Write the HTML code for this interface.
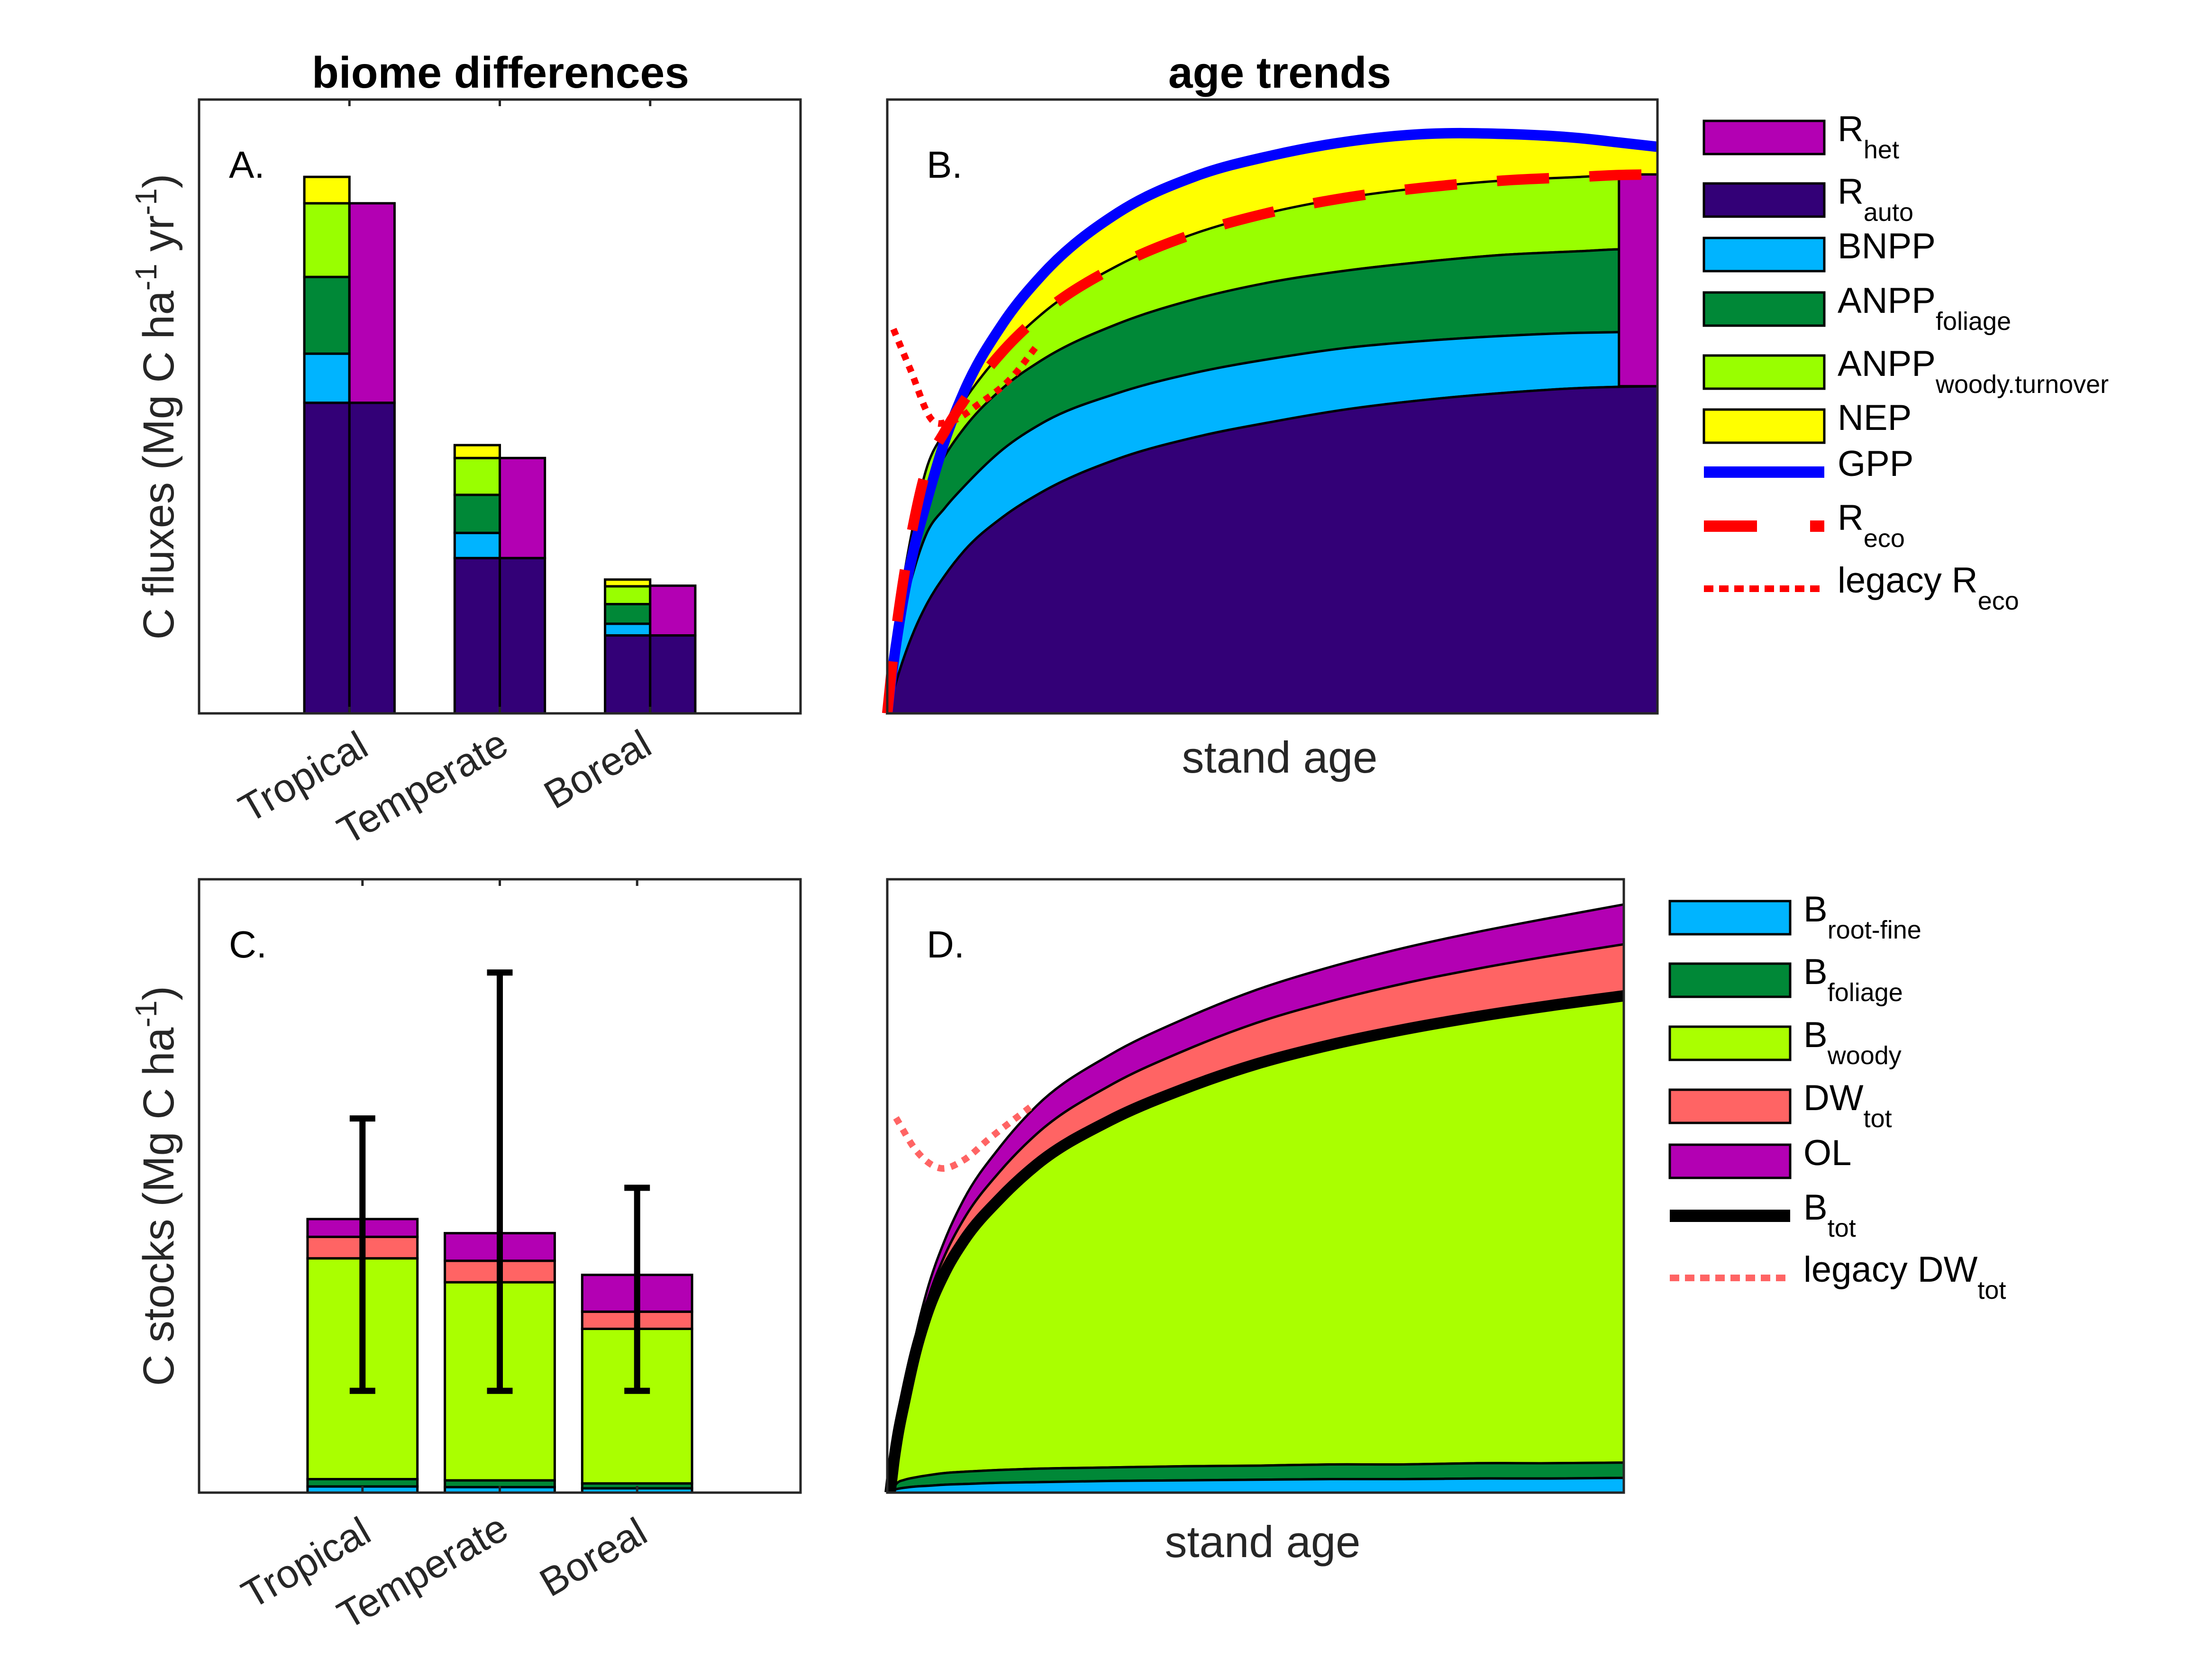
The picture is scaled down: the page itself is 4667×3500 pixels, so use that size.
<!DOCTYPE html>
<html><head><meta charset="utf-8"><style>
html,body{margin:0;padding:0;background:#fff;}
svg{display:block;font-family:"Liberation Sans",Arial,sans-serif;}
</style></head><body>
<svg id="fig" width="4667" height="3500" viewBox="0 0 4667 3500" xmlns="http://www.w3.org/2000/svg">
<rect x="0" y="0" width="4667" height="3500" fill="#fff"/>
<text x="1056" y="185" font-size="93" font-weight="bold" text-anchor="middle">biome differences</text>
<text x="2700" y="185" font-size="93" font-weight="bold" text-anchor="middle">age trends</text>
<g id="gA"></g>
<g id="gB"></g>
<g id="gC"></g>
<g id="gD"></g>
<text transform="translate(366,858) rotate(-90)" font-size="92" fill="#262626" text-anchor="middle">C fluxes (Mg C ha<tspan dy="-36" font-size="64">-1</tspan><tspan dy="36"> yr</tspan><tspan dy="-36" font-size="64">-1</tspan><tspan dy="36">)</tspan></text>
<text transform="translate(366,2502) rotate(-90)" font-size="92" fill="#262626" text-anchor="middle">C  stocks (Mg C ha<tspan dy="-36" font-size="64">-1</tspan><tspan dy="36">)</tspan></text>
<text x="2700" y="1630" font-size="94" fill="#262626" text-anchor="middle">stand age</text>
<text x="2664" y="3285" font-size="94" fill="#262626" text-anchor="middle">stand age</text>
<g id="legB"></g>
<g id="legD"></g>
</svg>
<script>
// ---------- Panel A data (biome fluxes) ----------
const biomes = ["Tropical","Temperate","Boreal"];
const fluxRauto = [50.6, 25.3, 12.7];
const fluxBNPP = [8.0, 4.1, 1.9];
const fluxFoliage = [12.5, 6.2, 3.2];
const fluxWoody = [12.0, 6.0, 2.9];
const fluxNEP = [4.3, 2.1, 1.1];
const fluxRhet = [32.5, 16.3, 8.1];
// ---------- Panel C data (biome stocks) ----------
const stockRoot = [1.0, 0.9, 0.7];
const stockFoliage = [1.2, 1.1, 0.8];
const stockWoody = [36.0, 32.3, 25.2];
const stockDW = [3.5, 3.5, 2.8];
const stockOL = [2.9, 4.5, 6.0];
const errHigh = [61.0, 84.8, 49.7];
const errLow = [16.6, 16.6, 16.6];
// ---------- Panel B data (age trends fluxes) ----------
const ageB = [0,0.01,0.02,0.035,0.05,0.075,0.1,0.15,0.2,0.3,0.4,0.5,0.6,0.7,0.8,0.9,0.95,1];
const bRauto = [0,.045,.085,.135,.175,.225,.265,.32,.36,.415,.45,.475,.496,.511,.522,.530,.532,.533];
const bBNPP = [0,.045,.075,.1,.115,.11,.105,.11,.112,.107,.105,.103,.1,.096,.093,.09,.089,.088];
const bFoliage = [0,.02,.03,.05,.07,.085,.095,.1,.103,.113,.12,.125,.126,.129,.132,.133,.135,.135];
const bWoody = [0,.01,.02,.03,.035,.04,.045,.06,.075,.095,.107,.114,.119,.121,.121,.121,.121,.122];
const bGPP = [0,.1,.18,.27,.34,.445,.525,.635,.713,.816,.875,.909,.932,.944,.944,.937,.93,.923];
const bReco = [0,.12,.21,.315,.395,.46,.51,.59,.65,.73,.782,.817,.841,.857,.868,.874,.877,.878];
const bRhetStart = 0.95;
const bRhetValue = 0.345;
const legacyAgeB = [.008,.03,.058,.08,.12,.16,.195];
const legacyRecoB = [.626,.56,.478,.475,.505,.545,.60];
// ---------- Panel D data (age trends stocks) ----------
const ageD = [0,0.005,0.01,0.02,0.035,0.05,0.075,0.1,0.15,0.2,0.3,0.4,0.5,0.6,0.7,0.8,0.9,1];
const dRoot = [0,.004,.006,.008,.01,.011,.013,.014,.016,.017,.019,.02,.021,.022,.022,.023,.023,.024];
const dFoliage = [0,.005,.01,.013,.015,.017,.019,.02,.021,.022,.022,.023,.023,.024,.024,.025,.025,.025];
const dWoody = [0,.041,.074,.129,.205,.262,.328,.376,.443,.496,.566,.615,.655,.684,.709,.728,.746,.761];
const dDW = [0,.002,.004,.008,.014,.02,.028,.035,.044,.05,.057,.062,.067,.071,.075,.078,.081,.084];
const dOL = [0,.002,.004,.008,.013,.018,.025,.032,.04,.046,.05,.052,.054,.056,.058,.06,.062,.065];
const legacyAgeD = [.008,.036,.068,.1,.134,.196];
const legacyDWD = [.611,.557,.529,.542,.576,.633];

const NS = "http://www.w3.org/2000/svg";
const C = {rauto:"#330077",bnpp:"#00b4ff",fol:"#008837",woodyA:"#99ff00",nep:"#ffff00",rhet:"#b300b3",bwoody:"#aaff00",dw:"#ff6464",gpp:"#0000ff",red:"#ff0000"};
function el(parent, tag, attrs){ const e=document.createElementNS(NS,tag); for(const k in attrs) e.setAttribute(k,attrs[k]); parent.appendChild(e); return e; }
// cubic Hermite with x-aware tangents (handles uneven spacing, works in either x direction)
function smooth(pts){
  const n=pts.length;
  const m=[];
  for(let i=0;i<n;i++){
    let a=pts[Math.max(0,i-1)], b=pts[Math.min(n-1,i+1)];
    if(i>0 && i<n-1){
      const s1=(pts[i][1]-pts[i-1][1])/((pts[i][0]-pts[i-1][0])||1e-6);
      const s2=(pts[i+1][1]-pts[i][1])/((pts[i+1][0]-pts[i][0])||1e-6);
      const h1=Math.abs(pts[i][0]-pts[i-1][0]), h2=Math.abs(pts[i+1][0]-pts[i][0]);
      m.push((s1*h2+s2*h1)/((h1+h2)||1e-6));
    } else {
      m.push((b[1]-a[1])/((b[0]-a[0])||1e-6));
    }
  }
  let d="M"+pts[0][0].toFixed(1)+","+pts[0][1].toFixed(1);
  for(let i=0;i<n-1;i++){
    const p1=pts[i],p2=pts[i+1];
    const dx=(p2[0]-p1[0])/3;
    const c1=[p1[0]+dx,p1[1]+m[i]*dx];
    const c2=[p2[0]-dx,p2[1]-m[i+1]*dx];
    d+="C"+c1[0].toFixed(1)+","+c1[1].toFixed(1)+" "+c2[0].toFixed(1)+","+c2[1].toFixed(1)+" "+p2[0].toFixed(1)+","+p2[1].toFixed(1);
  }
  return d;
}
function area(top,bot){
  const r=bot.slice().reverse();
  return smooth(top)+"L"+smooth(r).slice(1)+"Z";
}
function frame(g,x0,y0,x1,y1,ticks){
  const f=el(g,"rect",{x:x0,y:y0,width:x1-x0,height:y1-y0,fill:"none",stroke:"#262626","stroke-width":5});
  
  
  (ticks||[]).forEach(tx=>{
    const t1=el(g,"line",{x1:tx,x2:tx,y1:y0,y2:y0+14,stroke:"#262626","stroke-width":5});
    
    
    const t2=el(g,"line",{x1:tx,x2:tx,y1:y1,y2:y1-14,stroke:"#262626","stroke-width":5});
    
    
  });
}
function label(g,x,y,txt){
  const t=el(g,"text",{x:x,y:y,"font-size":80});
  t.textContent=txt;
  
  
}

// ===== Panel A =====
(function(){
  const g=document.getElementById("gA");
  const X0=420,X1=1689,Y0=210,Y1=1505;
  const sx=v=>X0+(v-0)/(4-0)*(X1-X0);
  const sy=v=>Y1-v/100*(Y1-Y0);
  const w=0.3;
  biomes.forEach((b,i)=>{
    const cx=i+1;
    const segs=[[fluxRauto[i],C.rauto],[fluxBNPP[i],C.bnpp],[fluxFoliage[i],C.fol],[fluxWoody[i],C.woodyA],[fluxNEP[i],C.nep]];
    let base=0;
    segs.forEach((s,k)=>{
      const r=el(g,"rect",{x:sx(cx-w),y:sy(base+s[0]),width:sx(cx)-sx(cx-w),height:sy(base)-sy(base+s[0]),fill:s[1],stroke:"#000","stroke-width":5});
      
      
      base+=s[0];
    });
    const segs2=[[fluxRauto[i],C.rauto],[fluxRhet[i],C.rhet]];
    base=0;
    segs2.forEach((s,k)=>{
      const r=el(g,"rect",{x:sx(cx),y:sy(base+s[0]),width:sx(cx+w)-sx(cx),height:sy(base)-sy(base+s[0]),fill:s[1],stroke:"#000","stroke-width":5});
      
      
      base+=s[0];
    });
  });
  frame(g,X0,Y0,X1,Y1,[sx(1),sx(2),sx(3)]);
  label(g,483,375,"A.");
  const pos=[[654,1664],[906,1685],[1275,1648]];
  biomes.forEach((b,i)=>{
    const t=el(g,"text",{x:pos[i][0],y:pos[i][1],"font-size":84,fill:"#262626","text-anchor":"middle",transform:"rotate(-30 "+pos[i][0]+" "+pos[i][1]+")"});
    t.textContent=b;
    
    
  });
})();

// ===== Panel C =====
(function(){
  const g=document.getElementById("gC");
  const X0=420,X1=1689,Y0=1855,Y1=3149;
  const sx=v=>X0+(v+0.19)/4.38*(X1-X0);
  const sy=v=>Y1-v/100*(Y1-Y0);
  const w=0.4;
  biomes.forEach((b,i)=>{
    const cx=i+1;
    const segs=[[stockRoot[i],C.bnpp],[stockFoliage[i],C.fol],[stockWoody[i],C.bwoody],[stockDW[i],C.dw],[stockOL[i],C.rhet]];
    let base=0;
    segs.forEach((s,k)=>{
      const r=el(g,"rect",{x:sx(cx-w),y:sy(base+s[0]),width:sx(cx+w)-sx(cx-w),height:sy(base)-sy(base+s[0]),fill:s[1],stroke:"#000","stroke-width":5});
      
      
      base+=s[0];
    });
  });
  frame(g,X0,Y0,X1,Y1,[sx(1),sx(2),sx(3)]);
  biomes.forEach((b,i)=>{
    const cx=sx(i+1);
    const e=el(g,"path",{d:"M"+cx+","+sy(errLow[i])+"V"+sy(errHigh[i])+"M"+(cx-27)+","+sy(errHigh[i])+"H"+(cx+27)+"M"+(cx-27)+","+sy(errLow[i])+"H"+(cx+27),stroke:"#000","stroke-width":13,fill:"none"});
    
    
  });
  label(g,483,2020,"C.");
  const pos=[[660,3322],[906,3340],[1266,3310]];
  biomes.forEach((b,i)=>{
    const t=el(g,"text",{x:pos[i][0],y:pos[i][1],"font-size":84,fill:"#262626","text-anchor":"middle",transform:"rotate(-30 "+pos[i][0]+" "+pos[i][1]+")"});
    t.textContent=b;
    
    
  });
})();

// ===== Panel B =====
(function(){
  const g=document.getElementById("gB");
  const X0=1872,X1=3497,Y0=210,Y1=1505;
  const sx=v=>X0+v*(X1-X0);
  const sy=v=>Y1-v*(Y1-Y0);
  const n=ageB.length;
  const c1=[],c2=[],c3=[],c4=[];
  for(let i=0;i<n;i++){ const a=bRauto[i]; c1.push(a); c2.push(a+bBNPP[i]); c3.push(c2[i]+bFoliage[i]); c4.push(c3[i]+bWoody[i]); }
  const pts=arr=>ageB.map((t,i)=>[sx(t),sy(arr[i])]);
  const zero=ageB.map(t=>[sx(t),sy(0)]);
  const layers=[[pts(bGPP),pts(c4),C.nep,'area-nep'],[pts(c4),pts(c3),C.woodyA,'area-anpp-woody'],[pts(c3),pts(c2),C.fol,'area-anpp-foliage'],[pts(c2),pts(c1),C.bnpp,'area-bnpp'],[pts(c1),zero,C.rauto,'area-rauto']];
  layers.forEach(L=>{
    const p=el(g,"path",{d:area(L[0],L[1]),fill:L[2],stroke:L[2]==C.nep?"none":"#000","stroke-width":5});
    
    
  });
  const ra=bRauto[n-1];
  const rh=el(g,"rect",{x:sx(bRhetStart),y:sy(ra+bRhetValue),width:sx(1)-sx(bRhetStart),height:sy(ra)-sy(ra+bRhetValue),fill:C.rhet,stroke:"#000","stroke-width":5});
  
  
  const gp=el(g,"path",{d:smooth(pts(bGPP)),fill:"none",stroke:C.gpp,"stroke-width":22});
  
  
  const rc=el(g,"path",{d:smooth(pts(bReco)),fill:"none",stroke:C.red,"stroke-width":22,"stroke-dasharray":"110 85"});
  
  
  const lg=el(g,"path",{d:smooth(legacyAgeB.map((t,i)=>[sx(t),sy(legacyRecoB[i])])),fill:"none",stroke:C.red,"stroke-width":14,"stroke-dasharray":"14 14"});
  
  
  frame(g,X0,Y0,X1,Y1,[]);
  label(g,1955,375,"B.");
})();

// ===== Panel D =====
(function(){
  const g=document.getElementById("gD");
  const X0=1872,X1=3426,Y0=1855,Y1=3149;
  const sx=v=>X0+6+v*(X1-X0-6);
  const sy=v=>Y1-v*(Y1-Y0);
  const n=ageD.length;
  const c1=[],c2=[],c3=[],c4=[],c5=[];
  for(let i=0;i<n;i++){ c1.push(dRoot[i]); c2.push(c1[i]+dFoliage[i]); c3.push(c2[i]+dWoody[i]); c4.push(c3[i]+dDW[i]); c5.push(c4[i]+dOL[i]); }
  const pts=arr=>ageD.map((t,i)=>[sx(t),sy(arr[i])]);
  const zero=ageD.map(t=>[sx(t),sy(0)]);
  const layers=[[pts(c5),pts(c4),C.rhet,'area-ol'],[pts(c4),pts(c3),C.dw,'area-dw'],[pts(c3),pts(c2),C.bwoody,'area-b-woody'],[pts(c2),pts(c1),C.fol,'area-b-foliage'],[pts(c1),zero,C.bnpp,'area-b-root']];
  layers.forEach(L=>{
    const p=el(g,"path",{d:area(L[0],L[1]),fill:L[2],stroke:"#000","stroke-width":5});
    
    
  });
  const bt=el(g,"path",{d:smooth(pts(c3)),fill:"none",stroke:"#000","stroke-width":24});
  
  
  const lg=el(g,"path",{d:smooth(legacyAgeD.map((t,i)=>[sx(t),sy(legacyDWD[i])])),fill:"none",stroke:C.dw,"stroke-width":14,"stroke-dasharray":"14 14"});
  
  
  frame(g,X0,Y0,X1,Y1,[]);
  label(g,1955,2020,"D.");
})();

// ===== Legends =====
function legend(gid,x0,tx,rows){
  const g=document.getElementById(gid);
  rows.forEach(r=>{
    const y=r.y;
    if(r.type==="patch"){
      const p=el(g,"rect",{x:x0,y:y-35,width:254,height:70,fill:r.color,stroke:"#000","stroke-width":5});
      
      
    } else {
      const l=el(g,"line",{x1:x0,x2:x0+254,y1:y,y2:y,stroke:r.color,"stroke-width":r.w,"stroke-dasharray":r.dash||"none"});
      
      
    }
    const t=el(g,"text",{x:tx,y:y+8,"font-size":76,fill:"#000"});
    
    
    const a=document.createElementNS(NS,"tspan"); a.textContent=r.main; t.appendChild(a);
    if(r.sub){ const s=document.createElementNS(NS,"tspan"); s.setAttribute("dy","36"); s.setAttribute("font-size","54"); s.textContent=r.sub; t.appendChild(s); }
  });
}
legend("legB",3595,3877,[
  {type:"patch",color:C.rhet,y:290,main:"R",sub:"het"},
  {type:"patch",color:C.rauto,y:422,main:"R",sub:"auto"},
  {type:"patch",color:C.bnpp,y:537,main:"BNPP"},
  {type:"patch",color:C.fol,y:652,main:"ANPP",sub:"foliage"},
  {type:"patch",color:C.woodyA,y:785,main:"ANPP",sub:"woody.turnover"},
  {type:"patch",color:C.nep,y:899,main:"NEP"},
  {type:"line",color:C.gpp,w:24,y:996,main:"GPP"},
  {type:"line",color:C.red,w:24,dash:"112 112",y:1110,main:"R",sub:"eco"},
  {type:"line",color:C.red,w:14,dash:"20 12",y:1242,main:"legacy R",sub:"eco"}
]);
legend("legD",3523,3805,[
  {type:"patch",color:C.bnpp,y:1936,main:"B",sub:"root-fine"},
  {type:"patch",color:C.fol,y:2068,main:"B",sub:"foliage"},
  {type:"patch",color:C.bwoody,y:2201,main:"B",sub:"woody"},
  {type:"patch",color:C.dw,y:2334,main:"DW",sub:"tot"},
  {type:"patch",color:C.rhet,y:2450,main:"OL"},
  {type:"line",color:"#000",w:26,y:2565,main:"B",sub:"tot"},
  {type:"line",color:C.dw,w:14,dash:"20 12",y:2696,main:"legacy DW",sub:"tot"}
]);
</script>
</body></html>
